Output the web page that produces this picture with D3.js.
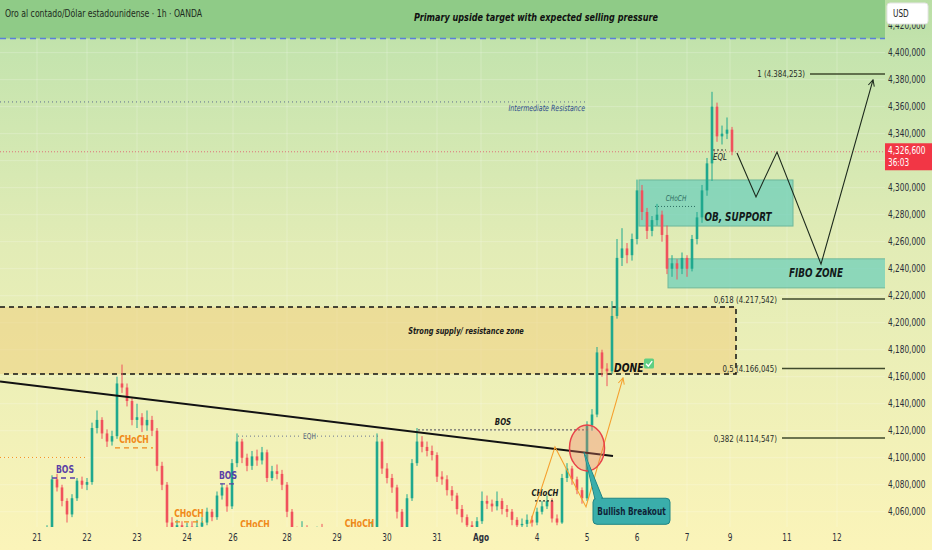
<!DOCTYPE html>
<html>
<head>
<meta charset="utf-8">
<script src="https://cdn.jsdelivr.net/npm/d3@7"></script>
<style>
  body { margin: 0; overflow: hidden; background: #fbf4b9; }
  svg { display: block; font-family: "DejaVu Sans Condensed", "Liberation Sans", sans-serif; }
</style>
</head>
<body>
<div id="chart"></div>
<script>
const chart_width = 932;
const chart_height = 550;
const chart_visualizer = {
  width: chart_width,
  height: chart_height,
  plot: { left: 0, right: 885, top: 0, bottom: 527 }
};
// the chart's font is narrower than anything installed, so text gets squeezed
const text_squeeze = 0.82;

// ---- data (prices, time in "session day" units: 0 = day 21) ----
const first_open = 4040;
const candle_start = 0.2;
const candle_step = 0.1;

const closes = [
  4046, 4084, 4078, 4068, 4058, 4070, 4083, 4080, 4082, 4122,
  4128, 4118, 4112, 4116, 4155, 4152, 4142, 4128, 4130, 4124,
  4128, 4120, 4094, 4080, 4052, 4048, 4050, 4046, 4049, 4047,
  4049, 4052, 4060, 4056, 4072, 4078, 4064, 4096, 4112, 4100,
  4094, 4101, 4098, 4104, 4085, 4090, 4088, 4080, 4060, 4045,
  4044, 4047, 4043, 4040, 4045, 4042, 4038, 4041, 4044, 4039,
  4042, 4046, 4043, 4040, 4044, 4048, 4112, 4092, 4085, 4078,
  4060, 4048, 4070, 4096, 4112, 4108, 4105, 4102, 4086, 4084,
  4076, 4072, 4062, 4056, 4050, 4048, 4053, 4068, 4066, 4064,
  4068, 4062, 4060, 4054, 4050, 4051, 4054, 4052, 4060, 4064,
  4068, 4055, 4052, 4085, 4092, 4084, 4076, 4070, 4124, 4132,
  4178, 4166, 4164, 4205, 4248, 4255, 4250, 4262, 4298, 4282,
  4268, 4276, 4280, 4265, 4240, 4244, 4240, 4248, 4240, 4262,
  4278, 4298, 4318, 4360, 4338, 4340, 4343, 4326.6
];
const highs = [
  4050, 4087, 4088, 4080, 4070, 4073, 4085, 4086, 4085, 4126,
  4135, 4130, 4121, 4120, 4160, 4169, 4155, 4144, 4140, 4133,
  4135, 4131, 4122, 4097, 4082, 4056, 4054, 4053, 4052, 4053,
  4054, 4056, 4063, 4062, 4075, 4081, 4080, 4099, 4118, 4114,
  4103, 4105, 4106, 4108, 4106, 4094, 4095, 4091, 4082, 4062,
  4049, 4053, 4050, 4046, 4049, 4051, 4045, 4044, 4048, 4047,
  4046, 4052, 4049, 4046, 4048, 4053, 4118, 4114, 4096, 4088,
  4080, 4062, 4073, 4099, 4122, 4116, 4112, 4109, 4104, 4090,
  4087, 4079, 4074, 4065, 4058, 4053, 4056, 4075, 4072, 4069,
  4075, 4070, 4065, 4062, 4056, 4055, 4058, 4057, 4063, 4068,
  4072, 4070, 4058, 4088, 4096, 4094, 4086, 4078, 4127, 4136,
  4182, 4180, 4170, 4216, 4262, 4270, 4259, 4266, 4306, 4302,
  4285, 4279, 4288, 4283, 4272, 4250, 4247, 4252, 4250, 4265,
  4282, 4302, 4322, 4371, 4363, 4346, 4352, 4345
];
const lows = [
  4036, 4044, 4075, 4064, 4052, 4056, 4068, 4077, 4076, 4080,
  4118, 4114, 4108, 4109, 4114, 4148, 4138, 4124, 4122, 4119,
  4120, 4116, 4090, 4076, 4046, 4042, 4044, 4041, 4043, 4042,
  4044, 4046, 4050, 4053, 4054, 4069, 4060, 4062, 4093, 4096,
  4090, 4091, 4094, 4095, 4082, 4083, 4084, 4076, 4056, 4040,
  4039, 4040, 4038, 4035, 4037, 4038, 4034, 4034, 4038, 4035,
  4036, 4040, 4039, 4036, 4037, 4042, 4046, 4088, 4081, 4074,
  4055, 4044, 4046, 4068, 4094, 4104, 4101, 4098, 4082, 4080,
  4072, 4068, 4058, 4052, 4046, 4044, 4045, 4051, 4062, 4060,
  4061, 4058, 4056, 4050, 4046, 4047, 4048, 4049, 4050, 4058,
  4062, 4052, 4050, 4051, 4082, 4080, 4073, 4066, 4068, 4120,
  4130, 4160, 4153, 4162, 4203, 4242, 4244, 4246, 4258, 4276,
  4262, 4264, 4272, 4260, 4236, 4234, 4232, 4236, 4234, 4238,
  4258, 4274, 4294, 4305, 4334, 4332, 4336, 4324
];

const price_ticks = [4060, 4080, 4100, 4120, 4140, 4160, 4180, 4200, 4220,
                     4240, 4260, 4280, 4300, 4340, 4360, 4380, 4400, 4420];
const grid_prices = [4060, 4080, 4100, 4120, 4140, 4160, 4180, 4200, 4220,
                     4240, 4260, 4280, 4300, 4320, 4340, 4360, 4380, 4400, 4420];
const day_labels = ["21", "22", "23", "24", "26", "28", "29", "30", "31", "Ago",
                    "4", "5", "6", "7", "9", "11", "12"];
const day_positions = [0, 1, 2, 3, 3.92, 5, 6, 7, 8, 8.88, 10, 11, 12, 13, 13.86, 15, 16];

const last_price = 4326.6;
const last_price_text = "4,326,600";
const countdown_text = "36:03";

const fib_labels = ["1 (4.384,253)", "0,618 (4.217,542)", "0,5 (4.166,045)", "0,382 (4.114,547)"];
const fib_prices = [4384.253, 4217.542, 4166.045, 4114.547];
const fib_starts = [15.46, 14.9, 14.9, 14.9];

const target_zone = [4410.5, 4460];
const supply_zone = [4162, 4211.6, 13.98];
const ob_zone = [12.04, 15.12, 4271.6, 4305.7];
const fibo_zone = [12.62, 17.2, 4225.8, 4247.3];
const trend_line = [[-0.74, 4156.5], [11.52, 4101.3]];
const orange_path = [[9.86, 4051.3], [10.36, 4108], [10.98, 4063.6], [11.72, 4159.1]];
const projection_path = [[14.0, 4325.7], [14.38, 4293.2], [14.8, 4326.4], [15.68, 4243.4], [16.72, 4379.8]];

// label, t0, t1, price (line), kind
const structure_marks = [
  ["BOS",   0.30, 0.82, 4085.0, "bos"],
  ["BOS",   3.66, 3.98, 4080.6, "bos"],
  ["BOS",   7.62, 11.02, 4120.6, "bos-dark"],
  ["CHoCH", 1.56, 2.32, 4107.3, "choch"],
  ["CHoCH", 2.76, 3.32, 4052.5, "choch"],
  ["CHoCH", 4.10, 4.62, 4044.0, "choch"],
  ["CHoCH", 6.10, 6.80, 4045.0, "choch"],
  ["CHoCH", 9.96, 10.36, 4068.0, "choch-dark"]
];

// ---- scales ----
const x = d3.scaleLinear().domain([-0.74, 16.96]).range([chart_visualizer.plot.left, chart_visualizer.plot.right]);
const y = d3.scaleLinear().domain([4048.7, 4439]).range([chart_visualizer.plot.bottom, chart_visualizer.plot.top]);

const candles = closes.map((c, i) => ({
  t: candle_start + i * candle_step,
  open: i === 0 ? first_open : closes[i - 1],
  close: c,
  high: highs[i],
  low: lows[i]
}));

const squeeze = (px, py) => `translate(${px},${py}) scale(${text_squeeze},1)`;

function add_text(g, px, py, txt, opts) {
  return g.append("text")
    .attr("transform", squeeze(px, py))
    .attr("text-anchor", opts.anchor || "start")
    .attr("font-size", opts.size || 9.5)
    .attr("font-style", opts.italic ? "italic" : "normal")
    .attr("font-weight", opts.weight || 400)
    .attr("fill", opts.color || "#2a2e39")
    .text(txt);
}

function create_svg(tag, dimensions) {
  const svg = d3.select(tag)
    .append("svg")
      .attr("width", dimensions.width)
      .attr("height", dimensions.height);
  const defs = svg.append("defs");
  const grad = defs.append("linearGradient")
    .attr("id", "bg-grad")
    .attr("x1", 0).attr("y1", 0).attr("x2", 0).attr("y2", 1);
  [[0, "#b9dea5"], [0.1, "#c5e4ae"], [0.45, "#e2ecb6"], [1, "#fbf4b9"]].forEach(s => {
    grad.append("stop").attr("offset", s[0]).attr("stop-color", s[1]);
  });
  defs.append("clipPath").attr("id", "plot-clip")
    .append("rect")
      .attr("x", dimensions.plot.left).attr("y", dimensions.plot.top)
      .attr("width", dimensions.plot.right - dimensions.plot.left)
      .attr("height", dimensions.plot.bottom - dimensions.plot.top);
  const arrow = (id, color) => defs.append("marker")
    .attr("id", id).attr("viewBox", "0 0 10 10")
    .attr("refX", 9).attr("refY", 5)
    .attr("markerWidth", 7).attr("markerHeight", 7)
    .attr("orient", "auto-start-reverse")
    .append("path").attr("d", "M1,1 L9,5 L1,9").attr("fill", "none")
      .attr("stroke", color).attr("stroke-width", 1.3);
  arrow("arrow-black", "#1d2a1d");
  arrow("arrow-orange", "#f5a02e");
  svg.append("rect")
    .attr("width", dimensions.width).attr("height", dimensions.height)
    .attr("fill", "url(#bg-grad)");
  return svg;
}

function draw_background(plot) {
  plot.selectAll("line.hgrid")
    .data(grid_prices)
    .join("line")
      .attr("class", "hgrid")
      .attr("x1", x.range()[0]).attr("x2", x.range()[1])
      .attr("y1", d => y(d)).attr("y2", d => y(d))
      .attr("stroke", "rgba(255,255,255,0.22)");
  plot.selectAll("line.vgrid")
    .data(day_positions)
    .join("line")
      .attr("class", "vgrid")
      .attr("x1", d => x(d)).attr("x2", d => x(d))
      .attr("y1", y.range()[1]).attr("y2", y.range()[0])
      .attr("stroke", "rgba(255,255,255,0.22)");

  // primary target band
  plot.append("rect")
    .attr("x", x.range()[0]).attr("width", x.range()[1] - x.range()[0])
    .attr("y", y(target_zone[1])).attr("height", y(target_zone[0]) - y(target_zone[1]))
    .attr("fill", "#8fcb87");
  plot.append("line")
    .attr("x1", x.range()[0]).attr("x2", x.range()[1])
    .attr("y1", y(target_zone[0])).attr("y2", y(target_zone[0]))
    .attr("stroke", "#5a7fdc").attr("stroke-width", 1.5)
    .attr("stroke-dasharray", "6,4");

  // supply / resistance zone
  const sx0 = x.range()[0], sx1 = x(supply_zone[2]);
  plot.append("rect")
    .attr("x", sx0).attr("width", sx1 - sx0)
    .attr("y", y(supply_zone[1])).attr("height", y(supply_zone[0]) - y(supply_zone[1]))
    .attr("fill", "#efcf80").attr("opacity", 0.55);
  plot.append("path")
    .attr("d", `M${sx0},${y(supply_zone[1])} H${sx1} V${y(supply_zone[0])} H${sx0}`)
    .attr("fill", "none").attr("stroke", "#111").attr("stroke-width", 1.5)
    .attr("stroke-dasharray", "5,4");

  // OB and fibo boxes
  [ob_zone, fibo_zone].forEach(z => {
    plot.append("rect")
      .attr("x", x(z[0])).attr("width", x(z[1]) - x(z[0]))
      .attr("y", y(z[3])).attr("height", y(z[2]) - y(z[3]))
      .attr("fill", "#6fd0bb").attr("opacity", 0.75)
      .attr("stroke", "#4aa792").attr("stroke-width", 1);
  });

  // intermediate resistance (dotted)
  plot.append("line")
    .attr("x1", x.range()[0]).attr("x2", x(11.02))
    .attr("y1", y(4363.5)).attr("y2", y(4363.5))
    .attr("stroke", "#5d6f8e").attr("stroke-width", 1).attr("stroke-dasharray", "1,3");
  // orange dotted level on the left
  plot.append("line")
    .attr("x1", x.range()[0]).attr("x2", x(1.02))
    .attr("y1", y(4100.2)).attr("y2", y(4100.2))
    .attr("stroke", "#f5931e").attr("stroke-width", 1).attr("stroke-dasharray", "1,3");
  // current price line
  plot.append("line")
    .attr("x1", x.range()[0]).attr("x2", x.range()[1])
    .attr("y1", y(last_price)).attr("y2", y(last_price))
    .attr("stroke", "#e0707a").attr("stroke-width", 1).attr("stroke-dasharray", "1,2");
}

function draw_candles(plot) {
  const g = plot.append("g");
  const col = d => d.close >= d.open ? "#1fa88e" : "#f0525c";
  g.selectAll("line.wick")
    .data(candles)
    .join("line")
      .attr("class", "wick")
      .attr("x1", d => x(d.t)).attr("x2", d => x(d.t))
      .attr("y1", d => y(d.high)).attr("y2", d => y(d.low))
      .attr("stroke", col).attr("stroke-width", 1);
  g.selectAll("rect.body")
    .data(candles)
    .join("rect")
      .attr("class", "body")
      .attr("x", d => x(d.t) - 1.3)
      .attr("width", 2.6)
      .attr("y", d => y(Math.max(d.open, d.close)))
      .attr("height", d => Math.max(1, Math.abs(y(d.open) - y(d.close))))
      .attr("fill", col);
}

function draw_annotations(plot) {
  // trend line
  plot.append("line")
    .attr("x1", x(trend_line[0][0])).attr("y1", y(trend_line[0][1]))
    .attr("x2", x(trend_line[1][0])).attr("y2", y(trend_line[1][1]))
    .attr("stroke", "#121212").attr("stroke-width", 2);

  // structure marks
  const style = {
    "bos":        { color: "#5b3fa6", dash: "5,4", tcolor: "#5b3fa6", italic: false, size: 10.5 },
    "bos-dark":   { color: "#6b6b6b", dash: "2,2", tcolor: "#1a1a1a", italic: true, size: 9.5 },
    "choch":      { color: "#f08a1a", dash: "5,4", tcolor: "#f08a1a", italic: false, size: 10.5 },
    "choch-dark": { color: "#333",    dash: "2,2", tcolor: "#1a1a1a", italic: true, size: 9.5 }
  };
  structure_marks.forEach(m => {
    const s = style[m[4]];
    if (m[3] > 4048) {
      plot.append("line")
        .attr("x1", x(m[1])).attr("x2", x(m[2]))
        .attr("y1", y(m[3])).attr("y2", y(m[3]))
        .attr("stroke", s.color).attr("stroke-width", 1.3).attr("stroke-dasharray", s.dash);
    }
    add_text(plot, (x(m[1]) + x(m[2])) / 2, y(m[3]) - 5, m[0],
      { anchor: "middle", size: s.size, italic: s.italic, weight: 600, color: s.tcolor });
  });

  // EQH dotted line + label
  plot.append("line")
    .attr("x1", x(4.02)).attr("x2", x(5.3)).attr("y1", y(4116)).attr("y2", y(4116))
    .attr("stroke", "#6a7590").attr("stroke-dasharray", "1,3");
  plot.append("line")
    .attr("x1", x(5.6)).attr("x2", x(6.82)).attr("y1", y(4116)).attr("y2", y(4116))
    .attr("stroke", "#6a7590").attr("stroke-dasharray", "1,3");
  add_text(plot, x(5.45), y(4116) + 3, "EQH", { anchor: "middle", size: 8, color: "#4e5c7a" });

  // CHoCH in the OB
  plot.append("line")
    .attr("x1", x(12.36)).attr("x2", x(13.2)).attr("y1", y(4286.1)).attr("y2", y(4286.1))
    .attr("stroke", "#2f6e62").attr("stroke-dasharray", "1,2");
  add_text(plot, x(12.78), y(4286.1) - 5, "CHoCH", { anchor: "middle", size: 8, italic: true, color: "#2f6e62" });

  // EQL
  plot.append("line")
    .attr("x1", x(13.52)).attr("x2", x(13.78)).attr("y1", y(4327.9)).attr("y2", y(4327.9))
    .attr("stroke", "#333").attr("stroke-dasharray", "2,2");
  add_text(plot, x(13.52), y(4327.9) + 10, "EQL", { size: 9.5, italic: true, color: "#1a1a1a" });

  // zone labels
  add_text(plot, x(8.58), y(4191.5), "Strong supply/ resistance zone",
    { anchor: "middle", size: 9, italic: true, weight: 700, color: "#1a1a1a" });
  add_text(plot, x(10.96), y(4356.5), "Intermediate Resistance",
    { anchor: "end", size: 8.5, italic: true, color: "#2d4a8a" });
  add_text(plot, x(14.02), y(4275.5), "OB, SUPPORT",
    { anchor: "middle", size: 12, italic: true, weight: 700, color: "#121a1a" });
  add_text(plot, x(15.58), y(4233.5), "FIBO ZONE",
    { anchor: "middle", size: 12, italic: true, weight: 700, color: "#121a1a" });
  add_text(plot, x(11.54), y(4163.5), "DONE",
    { size: 12.5, italic: true, weight: 700, color: "#111" });

  // green check box
  const cb = plot.append("g").attr("transform", `translate(${x(12.14)},${y(4173.5)})`);
  cb.append("rect").attr("width", 10).attr("height", 10).attr("rx", 1.5).attr("fill", "#5fcf83");
  cb.append("path").attr("d", "M2,5.3 L4.3,7.6 L8.2,2.6").attr("fill", "none")
    .attr("stroke", "#fff").attr("stroke-width", 1.4);

  // orange zigzag arrow
  plot.append("path")
    .attr("d", d3.line().x(d => x(d[0])).y(d => y(d[1]))(orange_path))
    .attr("fill", "none").attr("stroke", "#f5a02e").attr("stroke-width", 1.1)
    .attr("marker-end", "url(#arrow-orange)");

  // breakout circle
  plot.append("ellipse")
    .attr("cx", x(11.0)).attr("cy", y(4107.3))
    .attr("rx", 17.5).attr("ry", 23)
    .attr("fill", "rgba(236,120,100,0.35)")
    .attr("stroke", "#e8434a").attr("stroke-width", 1.5);

  // projection
  plot.append("path")
    .attr("d", d3.line().x(d => x(d[0])).y(d => y(d[1]))(projection_path))
    .attr("fill", "none").attr("stroke", "#1d2a1d").attr("stroke-width", 1.1)
    .attr("marker-end", "url(#arrow-black)");

  // fib levels
  fib_prices.forEach((p, i) => {
    plot.append("line")
      .attr("x1", x(fib_starts[i])).attr("x2", x.range()[1])
      .attr("y1", y(p)).attr("y2", y(p))
      .attr("stroke", "#3f4a2c").attr("stroke-width", 1.5);
    add_text(plot, x(fib_starts[i]) - 5, y(p) + 3.5, fib_labels[i],
      { anchor: "end", size: 9.5, color: "#2a2e2a" });
  });

  // bullish breakout callout
  const bx0 = x(11.12), bx1 = x(12.66), by0 = y(4070), by1 = y(4050.7);
  const tip = [x(10.94), y(4104)];
  plot.append("path")
    .attr("d", `M${tip[0]},${tip[1]} L${bx0 + 10},${by0 + 1} L${bx0 + 2},${by0 + 1} Z`)
    .attr("fill", "#3aaeab").attr("stroke", "#1f8585").attr("stroke-width", 1);
  plot.append("rect")
    .attr("x", bx0).attr("y", by0).attr("width", bx1 - bx0).attr("height", by1 - by0)
    .attr("rx", 4).attr("fill", "#3aaeab").attr("stroke", "#1f8585").attr("stroke-width", 1);
  plot.append("path")
    .attr("d", `M${tip[0]},${tip[1]} L${bx0 + 9},${by0 + 2} L${bx0 + 3},${by0 + 2} Z`)
    .attr("fill", "#3aaeab");
  add_text(plot, (bx0 + bx1) / 2, (by0 + by1) / 2 + 3.5, "Bullish Breakout",
    { anchor: "middle", size: 10, weight: 700, color: "#0f2438" });
}

function draw_axes(svg, dimensions) {
  const fmt = d3.format(",");
  svg.append("g").selectAll("text")
    .data(price_ticks)
    .join("text")
      .attr("transform", d => squeeze(dimensions.plot.right + 3, y(d) + 3.5))
      .attr("font-size", 10).attr("fill", "#2a2e39")
      .text(d => fmt(d * 1000));
  svg.append("g").selectAll("text")
    .data(day_labels)
    .join("text")
      .attr("transform", (d, i) => squeeze(x(day_positions[i]), dimensions.plot.bottom + 14))
      .attr("text-anchor", "middle")
      .attr("font-size", 10)
      .attr("font-weight", d => d === "Ago" ? 700 : 400)
      .attr("fill", "#2a2e39")
      .text(d => d);

  // USD box
  svg.append("rect")
    .attr("x", dimensions.plot.right + 2).attr("y", 3).attr("width", 41).attr("height", 21)
    .attr("rx", 3).attr("fill", "#fff").attr("stroke", "#e4e4e4");
  add_text(svg, dimensions.plot.right + 8, 17, "USD", { size: 10, color: "#1c1c1c" });

  // last price tag
  const py = y(last_price);
  svg.append("rect")
    .attr("x", dimensions.plot.right).attr("y", py - 8.5)
    .attr("width", dimensions.width - dimensions.plot.right).attr("height", 27)
    .attr("fill", "#f23645");
  add_text(svg, dimensions.plot.right + 3, py + 2.5, last_price_text, { size: 10, color: "#fff" });
  add_text(svg, dimensions.plot.right + 3, py + 14.5, countdown_text, { size: 10, color: "#fff" });

  // titles
  add_text(svg, 5, 17, "Oro al contado/Dólar estadounidense · 1h · OANDA",
    { size: 10.5, weight: 500, color: "#1d2a1d" });
  add_text(svg, x(9.98), 21, "Primary upside target with expected selling pressure",
    { anchor: "middle", size: 11, italic: true, weight: 600, color: "#111" });
}

function instance_chart(dimensions) {
  const svg = create_svg("#chart", dimensions);
  const plot = svg.append("g").attr("clip-path", "url(#plot-clip)");
  draw_background(plot);
  draw_candles(plot);
  draw_annotations(plot);
  draw_axes(svg, dimensions);
}

instance_chart(chart_visualizer);
</script>
</body>
</html>
